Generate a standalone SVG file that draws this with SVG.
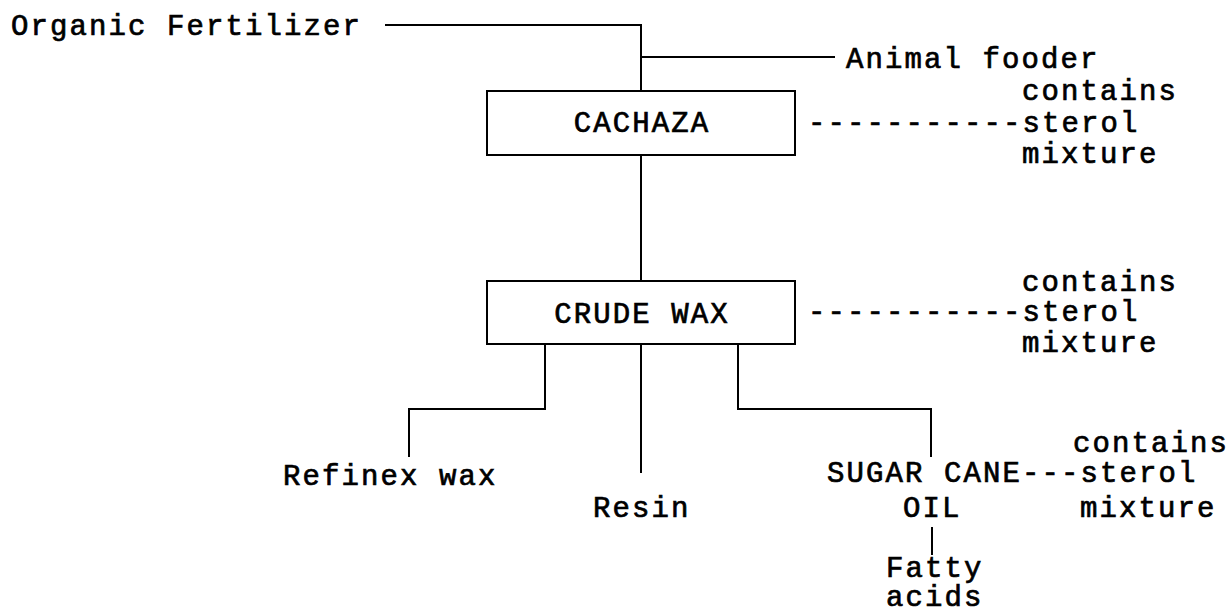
<svg xmlns="http://www.w3.org/2000/svg" width="1229" height="613" viewBox="0 0 1229 613">
<style>
text{font-family:"Liberation Mono","Courier New",monospace;font-size:29px;letter-spacing:2.1px;font-weight:normal;fill:#000;stroke:#000;stroke-width:0.7px}
.c{text-anchor:middle}
.box{fill:#fff;stroke:#000;stroke-width:2}
.ln{fill:none;stroke:#000;stroke-width:2}
</style>
<rect width="1229" height="613" fill="#fff"/>
<g id="connectors">
<path class="ln" d="M385 25H641V91"/>
<path class="ln" d="M641 57H835"/>
<path class="ln" d="M641 155V281"/>
<path class="ln" d="M545 344V409H409V457"/>
<path class="ln" d="M641 344V473"/>
<path class="ln" d="M738 344V409H931V457"/>
<path class="ln" d="M932 527V555"/>
</g>
<g id="organic"><text x="11" y="35">Organic Fertilizer</text></g>
<g id="animal"><text x="846" y="68">Animal fooder</text></g>
<g id="cachaza"><rect class="box" x="487" y="91" width="308" height="64"/><text class="c" x="642" y="132">CACHAZA</text></g>
<g id="sterol1"><text x="1022" y="100">contains</text><text x="808" y="132">-----------sterol</text><text x="1022" y="163">mixture</text></g>
<g id="crudewax"><rect class="box" x="487" y="281" width="308" height="63"/><text class="c" x="642" y="323">CRUDE WAX</text></g>
<g id="sterol2"><text x="1022" y="291">contains</text><text x="808" y="321">-----------sterol</text><text x="1022" y="352">mixture</text></g>
<g id="refinex"><text x="283" y="485">Refinex wax</text></g>
<g id="resin"><text x="593" y="517">Resin</text></g>
<g id="sugarcane"><text x="827" y="482">SUGAR CANE---sterol</text><text x="903" y="517">OIL</text><text x="1073" y="452">contains</text><text x="1080" y="517">mixture</text></g>
<g id="fatty"><text x="886" y="577">Fatty</text><text x="886" y="606">acids</text></g>
</svg>
